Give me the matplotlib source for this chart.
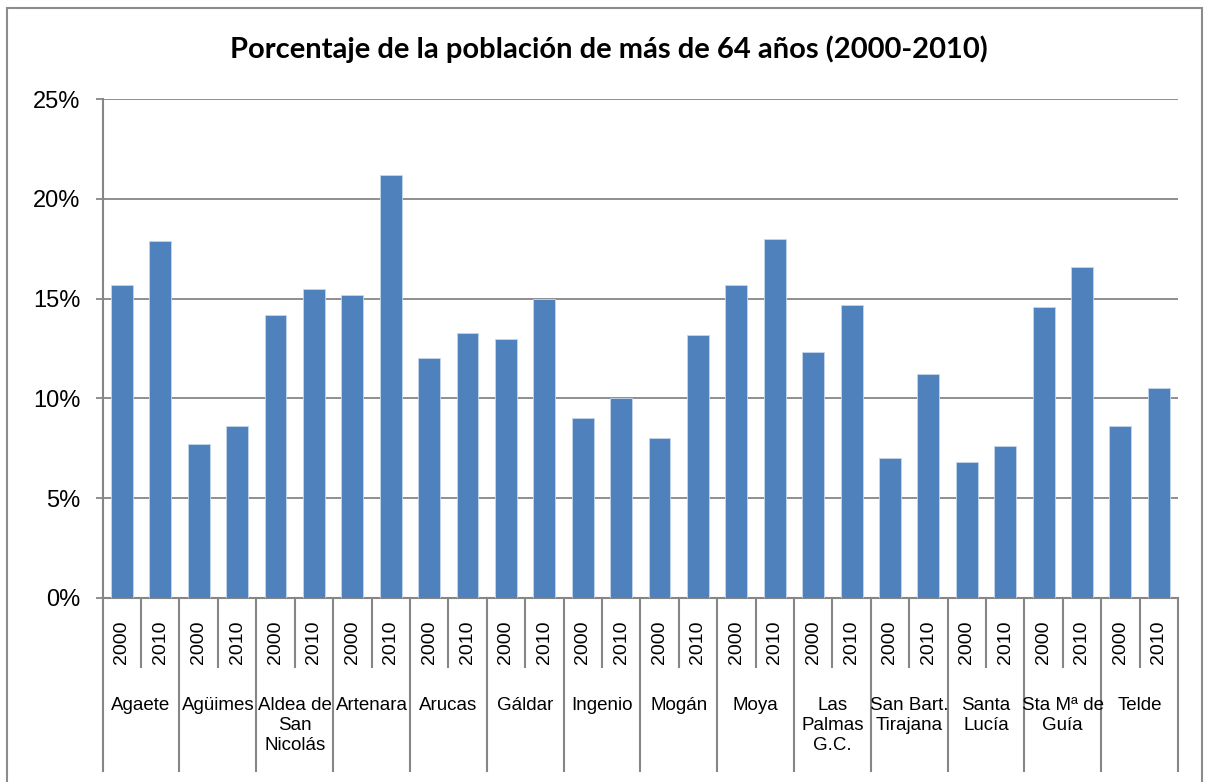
import numpy as np
import matplotlib
matplotlib.use('Agg')
import matplotlib.pyplot as plt
import matplotlib.transforms as mtransforms
from matplotlib.patches import Rectangle

# datos (% de población de más de 64 años)
municipios = ['Agaete', 'Agüimes', 'Aldea de\nSan\nNicolás', 'Artenara', 'Arucas',
              'Gáldar', 'Ingenio', 'Mogán', 'Moya', 'Las\nPalmas\nG.C.',
              'San Bart.\nTirajana', 'Santa\nLucía', 'Sta Mª de\nGuía', 'Telde']
anios = ['2000', '2010']
valores_2000 = [15.7, 7.7, 14.2, 15.2, 12.0, 13.0, 9.0, 8.0, 15.7, 12.3, 7.0, 6.8, 14.6, 8.6]
valores_2010 = [17.9, 8.6, 15.5, 21.2, 13.3, 15.0, 10.0, 13.2, 18.0, 14.7, 11.2, 7.6, 16.6, 10.5]
y_ticks = [0, 5, 10, 15, 20, 25]

GRIS = '#868686'
AZUL = '#4F81BD'


def main():
    valores = []
    for a, b in zip(valores_2000, valores_2010):
        valores += [a, b]
    x = np.arange(len(valores))

    plt.rcParams['font.family'] = ['Liberation Sans', 'DejaVu Sans']

    fig = plt.figure(figsize=(12.05, 7.82), dpi=100)
    ax = fig.add_axes([0.0852, 0.2353, 0.8924, 0.6381])

    ax.bar(x, valores, width=0.57, color=AZUL, edgecolor='#c6d6ea', linewidth=0.6, zorder=3)

    ax.set_xlim(-0.5, len(valores) - 0.5)
    ax.set_ylim(0, 25)
    ax.set_yticks(y_ticks)
    ax.set_yticklabels([f'{t}%' for t in y_ticks], fontsize=17)
    ax.yaxis.grid(True, color=GRIS, linewidth=1.3, zorder=0)
    ax.tick_params(axis='y', length=5, width=1.3, color=GRIS, pad=11)
    ax.set_xticks([])

    for s in ['top', 'right']:
        ax.spines[s].set_visible(False)
    for s in ['left', 'bottom']:
        ax.spines[s].set_color(GRIS)
        ax.spines[s].set_linewidth(1.5)

    # eje de categorías en dos niveles
    trans = mtransforms.blended_transform_factory(ax.transData, ax.transAxes)
    for i in range(len(valores) + 1):
        xs = i - 0.5
        y_fin = -0.347 if i % 2 == 0 else -0.138
        ax.plot([xs, xs], [0, y_fin], color=GRIS, linewidth=1.5,
                transform=trans, clip_on=False)
    for i in range(len(valores)):
        ax.text(i, -0.088, anios[i % 2], rotation=90, fontsize=14,
                ha='center', va='center', transform=trans)
    for j, m in enumerate(municipios):
        ax.text(2 * j + 0.5, -0.198, m, fontsize=13.5, ha='center', va='top',
                linespacing=1.25, transform=trans)

    fig.text(0.505, 0.937, 'Porcentaje de la población de más de 64 años (2000-2010)',
             fontsize=21, fontweight='bold', ha='center', va='center', family=['Lato', 'DejaVu Sans'])

    # marco del gráfico
    fig.patches.append(Rectangle((7 / 1205, -0.1), 1195 / 1205, 1.1 - 8 / 782,
                                 transform=fig.transFigure, fill=False,
                                 edgecolor='#8c8c8c', linewidth=1.5))

    fig.savefig('out.png', dpi=100)


if __name__ == '__main__':
    main()
